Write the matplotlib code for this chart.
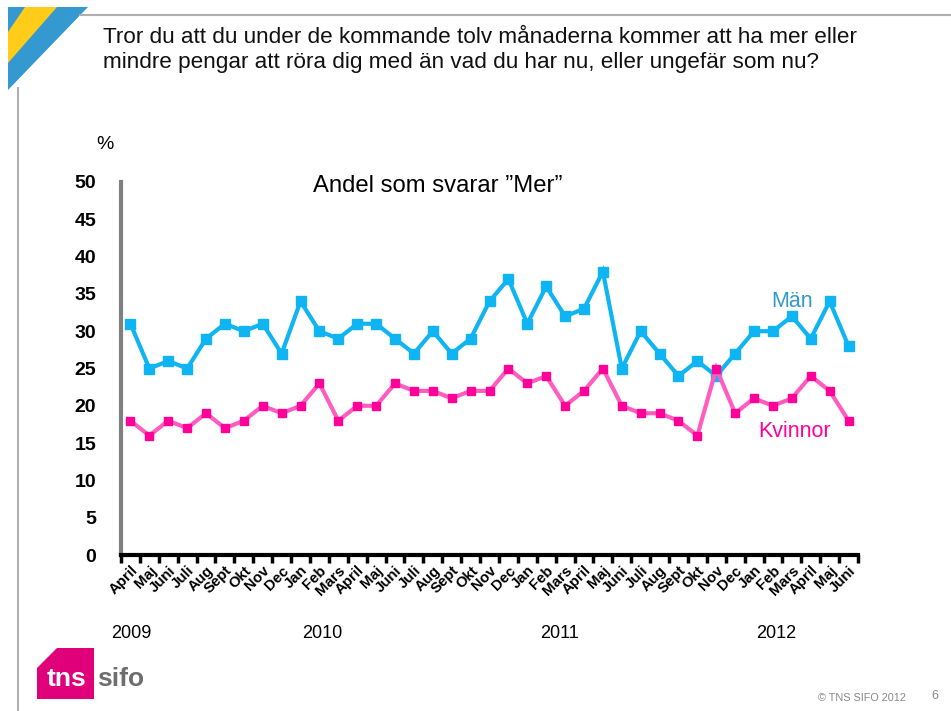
import matplotlib
matplotlib.use("Agg")
import matplotlib.pyplot as plt
from matplotlib.patches import Polygon
from matplotlib.lines import Line2D

plt.rcParams['font.family'] = ['Liberation Sans', 'DejaVu Sans']

months = ["April", "Maj", "Juni", "Juli", "Aug", "Sept", "Okt", "Nov", "Dec",
          "Jan", "Feb", "Mars", "April", "Maj", "Juni", "Juli", "Aug", "Sept", "Okt", "Nov", "Dec",
          "Jan", "Feb", "Mars", "April", "Maj", "Juni", "Juli", "Aug", "Sept", "Okt", "Nov", "Dec",
          "Jan", "Feb", "Mars", "April", "Maj", "Juni"]
man = [31, 25, 26, 25, 29, 31, 30, 31, 27,
       34, 30, 29, 31, 31, 29, 27, 30, 27, 29, 34, 37,
       31, 36, 32, 33, 38, 25, 30, 27, 24, 26, 24, 27,
       30, 30, 32, 29, 34, 28]
kvinnor = [18, 16, 18, 17, 19, 17, 18, 20, 19,
           20, 23, 18, 20, 20, 23, 22, 22, 21, 22, 22, 25,
           23, 24, 20, 22, 25, 20, 19, 19, 18, 16, 25, 19,
           21, 20, 21, 24, 22, 18]
years = ["2009", "2010", "2011", "2012"]
year_pos = [-1.0, 9.1, 21.7, 33.1]
yticks = [0, 5, 10, 15, 20, 25, 30, 35, 40, 45, 50]

fig = plt.figure(figsize=(9.51, 7.11), dpi=100)
W, H = 951, 711

def fx(px):
    return px / W

def fy(py):
    return 1 - py / H

# Decorative frame
fig.add_artist(Line2D([fx(80), fx(951)], [fy(15), fy(15)], color="#b0b0b0", lw=1.5))
fig.add_artist(Line2D([fx(18), fx(18)], [fy(88), fy(711)], color="#b0b0b0", lw=1.5))
fig.add_artist(Polygon([[fx(8), fy(7)], [fx(88), fy(7)], [fx(8), fy(90)]], closed=True,
                       facecolor="#3399d0", edgecolor="none", transform=fig.transFigure))
fig.add_artist(Polygon([[fx(25), fy(7)], [fx(57), fy(7)], [fx(8), fy(63)], [fx(8), fy(32)]], closed=True,
                       facecolor="#ffcc1a", edgecolor="none", transform=fig.transFigure))

fig.text(fx(103), fy(50), "Tror du att du under de kommande tolv månaderna kommer att ha mer eller\n"
         "mindre pengar att röra dig med än vad du har nu, eller ungefär som nu?",
         fontsize=16.2, va="center", ha="left", linespacing=1.3, color="#111111")

ax = fig.add_axes([fx(121), fy(555), fx(858) - fx(121), fy(182) - fy(555)])
x = list(range(len(months)))
ax.plot(x, man, color="#0fb4f2", lw=3, marker="s", ms=6.5, mfc="#0fb4f2", mec="#0fb4f2",
        solid_joinstyle="miter", clip_on=False, zorder=3)
ax.plot(x, kvinnor, color="#ff5cc0", lw=3, marker="s", ms=6, mfc="#ff0099", mec="#ff0099",
        solid_joinstyle="miter", clip_on=False, zorder=3)

ax.set_xlim(-0.5, len(months) - 0.5)
ax.set_ylim(0, 50)
ax.set_yticks(yticks)
ax.set_yticklabels([str(v) for v in yticks], fontsize=14, fontweight="bold")
ax.tick_params(axis="y", length=0, pad=18)
ax.set_xticks([i - 0.5 for i in range(len(months) + 1)], minor=False)
ax.set_xticklabels([])
ax.tick_params(axis="x", which="major", direction="out", length=6, width=2.5, color="black")
ax.set_xticks(x, minor=True)
ax.set_xticklabels(months, minor=True, rotation=45, ha="right", va="top",
                   rotation_mode="anchor", fontsize=10.8, fontweight="bold")
ax.tick_params(axis="x", which="minor", length=0, pad=6)

for s in ["top", "right"]:
    ax.spines[s].set_visible(False)
ax.spines["left"].set_color("#808080")
ax.spines["left"].set_linewidth(3)
ax.spines["bottom"].set_color("black")
ax.spines["bottom"].set_linewidth(3)

ax.text(-0.034, 1.10, "%", transform=ax.transAxes, fontsize=14, ha="left", va="center")
ax.text(0.26, 0.99, "Andel som svarar \u201dMer\u201d", transform=ax.transAxes,
        fontsize=17.2, ha="left", va="center")
ax.text(33.9, 34, "Män", color="#3399cc", fontsize=15.5, ha="left", va="center")
ax.text(33.2, 16.5, "Kvinnor", color="#ff0099", fontsize=15.5, ha="left", va="center")

for yr, p in zip(years, year_pos):
    ax.text(p, -10.5, yr, fontsize=13, ha="left", va="center")

# Logo
fig.add_artist(Polygon([[fx(57), fy(648)], [fx(94), fy(648)], [fx(94), fy(699)], [fx(37), fy(699)],
                        [fx(37), fy(668)]], closed=True, facecolor="#e0007a", edgecolor="none",
                       transform=fig.transFigure))
fig.text(fx(47), fy(679), "tns", color="white", fontsize=19, fontweight="bold", ha="left", va="center")
fig.text(fx(97), fy(679), "sifo", color="#6e6e6e", fontsize=19, fontweight="bold", ha="left", va="center")

fig.text(fx(818), fy(698), "\u00a9 TNS SIFO 2012", color="#888888", fontsize=7.8, ha="left", va="center")
fig.text(fx(935), fy(696), "6", color="#888888", fontsize=9, ha="center", va="center")

fig.savefig("out.png", dpi=100)
